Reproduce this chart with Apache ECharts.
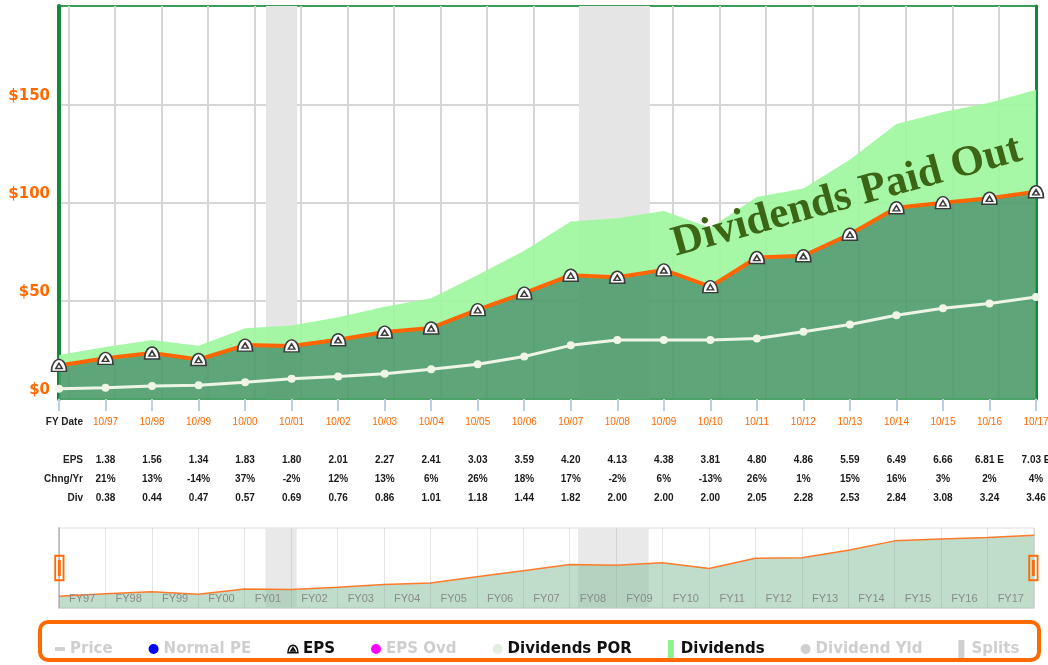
<!DOCTYPE html>
<html>
  <head>
    <meta charset="utf-8" />
    <title>EPS and Dividends</title>
    <script src="https://cdn.jsdelivr.net/npm/echarts@6/dist/echarts.min.js"></script>
  </head>
  <body style="margin:0;background:#fff">
    <style>
      #main { width: 1048px; height: 665px; }
    </style>
    <div id="main"></div>
    <script type="text/javascript">
      // fiscal years end in October (10/yy); FY96 is only drawn, not tabled
      var fiscalYears = [1996, 1997, 1998, 1999, 2000, 2001, 2002, 2003, 2004, 2005, 2006,
                         2007, 2008, 2009, 2010, 2011, 2012, 2013, 2014, 2015, 2016, 2017];
      var dateLabels = ['FY Date', '10/97', '10/98', '10/99', '10/00', '10/01', '10/02', '10/03',
                        '10/04', '10/05', '10/06', '10/07', '10/08', '10/09', '10/10', '10/11',
                        '10/12', '10/13', '10/14', '10/15', '10/16', '10/17'];
      var eps = [1.14, 1.38, 1.56, 1.34, 1.83, 1.80, 2.01, 2.27, 2.41, 3.03, 3.59,
                 4.20, 4.13, 4.38, 3.81, 4.80, 4.86, 5.59, 6.49, 6.66, 6.81, 7.03];
      var chng = ['', '21%', '13%', '-14%', '37%', '-2%', '12%', '13%', '6%', '26%', '18%',
                  '17%', '-2%', '6%', '-13%', '26%', '1%', '15%', '16%', '3%', '2%', '4%'];
      var div = [0.35, 0.38, 0.44, 0.47, 0.57, 0.69, 0.76, 0.86, 1.01, 1.18, 1.44,
                 1.82, 2.00, 2.00, 2.00, 2.05, 2.28, 2.53, 2.84, 3.08, 3.24, 3.46];
      var estimated = [2016, 2017];
      var peMultiple = 15;
      var recessions = [[2001.25, 2001.92], [2007.98, 2009.5]];
      var yearLines = [1997, 1998, 1999, 2000, 2001, 2002, 2003, 2004, 2005, 2006, 2007,
                       2008, 2009, 2010, 2011, 2012, 2013, 2014, 2015, 2016, 2017];
      var sliderLabels = ['FY97', 'FY98', 'FY99', 'FY00', 'FY01', 'FY02', 'FY03', 'FY04',
                          'FY05', 'FY06', 'FY07', 'FY08', 'FY09', 'FY10', 'FY11', 'FY12',
                          'FY13', 'FY14', 'FY15', 'FY16', 'FY17'];
      var yLabelValues = [0, 50, 100, 150];
      var yGridValues = [50, 100, 150];

      var monthPos = 0.8; // end of October as a fraction of the year
      var xMin = fiscalYears[0] + monthPos;
      var xMax = fiscalYears[fiscalYears.length - 1] + monthPos;

      // values plotted on the price scale (earnings and dividends times the PE multiple)
      var epsValue = eps.map(v => +(v * peMultiple).toFixed(2));
      var divValue = div.map(v => +(v * peMultiple).toFixed(2));
      var divPoints = fiscalYears.map((y, i) => [y + monthPos, divValue[i]]);
      var epsPoints = fiscalYears.map((y, i) => [y + monthPos, epsValue[i]]);

      var epsIcon = 'path://M1,11 C1,5 4,1 7.5,1 C11,1 14,5 14,11 Z M7.5,4.2 L10.3,8.6 L4.7,8.6 Z';
      var recessAreas = recessions.map(r => [{ xAxis: r[0] }, { xAxis: r[1] }]);

      var orange = '#ff6a00';
      var font = 'Liberation Sans';

      var myChart = echarts.init(document.getElementById('main'));
      var option = {
        animation: false,
        backgroundColor: '#fff',
        grid: [
          { left: 59, right: 12, top: 6, bottom: 266, show: true, outerBoundsMode: 'none',
            borderColor: '#3b9d55', borderWidth: 2 },
          { left: 59, right: 14, top: 528, height: 80, show: true, outerBoundsMode: 'none',
            borderColor: '#dedede', borderWidth: 1 }
        ],
        xAxis: [
          { gridIndex: 0, type: 'value', position: 'bottom', min: xMin, max: xMax,
            axisLine: { show: false }, axisLabel: { show: false },
            axisTick: { show: false, customValues: yearLines },
            splitLine: { show: true, lineStyle: { color: '#d6d6d6', width: 2 } } },
          { gridIndex: 0, type: 'category', position: 'bottom', boundaryGap: false,
            data: dateLabels,
            axisLine: { lineStyle: { color: '#4aa866', width: 2 } },
            axisTick: { show: true, interval: 0, length: 12, lineStyle: { color: '#bccfe2', width: 2 } },
            splitLine: { show: false },
            axisLabel: {
              interval: 0, margin: 14, lineHeight: 19, fontFamily: font,
              formatter: function (value, index) {
                if (index === 0) {
                  return '{hd|' + value + '}\n{sp| }\n{hd|EPS}\n{hd|Chng/Yr}\n{hd|Div}';
                }
                var e = eps[index].toFixed(2) + (estimated.indexOf(fiscalYears[index]) >= 0 ? ' E' : '');
                return '{dt|' + value + '}\n{sp| }\n{v|' + e + '}\n{v|' + chng[index] + '}\n{v|' + div[index].toFixed(2) + '}';
              },
              rich: {
                hd: { width: 48, align: 'right', fontSize: 10, fontFamily: font, fontWeight: 'bold', color: '#222', lineHeight: 19 },
                dt: { fontSize: 10, fontFamily: font, color: orange, lineHeight: 19 },
                v: { fontSize: 10, fontFamily: font, fontWeight: 'bold', color: '#1a1a1a', lineHeight: 19 },
                sp: { fontSize: 10, lineHeight: 19 }
              }
            } },
          { gridIndex: 1, type: 'value', position: 'bottom', min: xMin, max: xMax,
            axisLine: { show: false }, axisLabel: { show: false },
            axisTick: { show: false }, splitLine: { show: false } },
          { gridIndex: 1, type: 'category', position: 'bottom', boundaryGap: true, z: 10,
            data: sliderLabels,
            axisLine: { show: true, lineStyle: { color: '#dcdcdc', width: 1 } },
            axisTick: { show: false },
            axisLabel: { inside: true, margin: 4, interval: 0, color: '#8a8a8a', fontSize: 11, fontFamily: font },
            splitLine: { show: true, interval: 0, lineStyle: { color: 'rgba(150,150,150,0.25)', width: 1 } } }
        ],
        yAxis: [
          { gridIndex: 0, type: 'value', position: 'left', min: 0, max: 200,
            axisLine: { show: true, lineStyle: { color: '#14883a', width: 4 } },
            axisTick: { show: false, customValues: yGridValues },
            axisLabel: { customValues: yLabelValues, formatter: '${value}', margin: 9,
                         verticalAlign: 'bottom', padding: [0, 0, 1, 0],
                         color: orange, fontFamily: 'DejaVu Sans', fontWeight: 'bold', fontSize: 15 },
            splitLine: { show: true, lineStyle: { color: '#d6d6d6', width: 2 } } },
          { gridIndex: 0, type: 'value', position: 'right', min: 0, max: 200,
            axisLine: { show: true, lineStyle: { color: '#14883a', width: 3 } },
            axisTick: { show: false }, axisLabel: { show: false }, splitLine: { show: false } },
          { gridIndex: 1, type: 'value', min: 0, max: 116,
            axisLine: { show: true, lineStyle: { color: '#c8c8c8', width: 2 } },
            axisTick: { show: false }, axisLabel: { show: false }, splitLine: { show: false } }
        ],
        dataZoom: [{
          type: 'slider', xAxisIndex: 2, filterMode: 'none', start: 0, end: 100,
          left: 58, right: 14, top: 528, height: 80,
          showDetail: false, showDataShadow: false, brushSelect: false,
          backgroundColor: 'rgba(0,0,0,0)', borderColor: 'rgba(0,0,0,0)',
          fillerColor: 'rgba(0,0,0,0)',
          dataBackground: { lineStyle: { opacity: 0 }, areaStyle: { opacity: 0 } },
          selectedDataBackground: { lineStyle: { opacity: 0 }, areaStyle: { opacity: 0 } },
          moveHandleSize: 0, moveHandleStyle: { opacity: 0 },
          handleIcon: 'path://M0,0H10V26H0Z M1.8,1.8V24.2H8.2V1.8Z M3.6,5H6.4V21H3.6Z',
          handleSize: '33%',
          handleStyle: { color: orange, borderColor: orange, borderWidth: 0 },
          emphasis: { handleStyle: { color: orange, borderColor: orange, borderWidth: 0 },
                      moveHandleStyle: { opacity: 0 } }
        }],
        legend: {
          left: 50, top: 635, itemGap: 36, itemWidth: 10, itemHeight: 18,
          selectedMode: false,
          textStyle: { fontFamily: 'DejaVu Sans', fontWeight: 'bold', fontSize: 15, color: '#111' },
          data: [
            { name: 'Price', icon: 'path://M0,0h8v3h-8Z', itemStyle: { color: '#cfcfcf' }, textStyle: { color: '#cfcfcf' } },
            { name: 'Normal PE', icon: 'circle', itemStyle: { color: '#0000ff' }, textStyle: { color: '#cfcfcf' } },
            { name: 'EPS', icon: epsIcon, itemStyle: { color: '#fff', borderColor: '#111', borderWidth: 1.5 } },
            { name: 'EPS Ovd', icon: 'circle', itemStyle: { color: '#ff00ff' }, textStyle: { color: '#cfcfcf' } },
            { name: 'Dividends POR', icon: 'circle', itemStyle: { color: '#e3efe0' } },
            { name: 'Dividends', icon: 'path://M0,0h6v18h-6Z', itemStyle: { color: '#8ff08f' } },
            { name: 'Dividend Yld', icon: 'circle', itemStyle: { color: '#cfcfcf' }, textStyle: { color: '#cfcfcf' } },
            { name: 'Splits', icon: 'path://M0,0h6v18h-6Z', itemStyle: { color: '#cfcfcf' }, textStyle: { color: '#cfcfcf' } }
          ]
        },
        graphic: [
          { type: 'rect', x: 40, y: 622, shape: { width: 999, height: 38, r: 8 },
            style: { fill: '#fff', stroke: orange, lineWidth: 4 }, z: 0 },
          { type: 'text', x: 847, y: 197, rotation: 0.27, z: 100,
            style: { text: 'Dividends Paid Out', font: 'bold 43px "Liberation Serif"',
                     fill: '#3c6516', align: 'center', verticalAlign: 'middle' } }
        ],
        series: [
          { name: 'EPS', type: 'line', xAxisIndex: 1, yAxisIndex: 0, stack: 'val',
            data: epsValue, z: 3,
            lineStyle: { color: '#ff6600', width: 4 },
            areaStyle: { color: 'rgba(76,156,107,0.9)', opacity: 1 },
            symbol: epsIcon, symbolSize: [15, 12],
            itemStyle: { color: '#fff', borderColor: '#3a3a3a', borderWidth: 1.5 } },
          { name: 'Dividends', type: 'line', xAxisIndex: 1, yAxisIndex: 0, stack: 'val',
            data: divValue, z: 2, symbol: 'none',
            lineStyle: { width: 0, opacity: 0 },
            areaStyle: { color: 'rgba(158,247,158,0.92)', opacity: 1 } },
          { name: 'Dividends POR', type: 'line', xAxisIndex: 0, yAxisIndex: 0,
            data: divPoints, z: 4,
            lineStyle: { color: '#eef5e6', width: 3 },
            symbol: 'circle', symbolSize: 8,
            itemStyle: { color: '#eef5e6' },
            markArea: { silent: true, z: 1, itemStyle: { color: '#e5e5e5' }, data: recessAreas } },
          { name: 'Price', type: 'line', data: [] },
          { name: 'Normal PE', type: 'line', data: [] },
          { name: 'EPS Ovd', type: 'line', data: [] },
          { name: 'Dividend Yld', type: 'line', data: [] },
          { name: 'Splits', type: 'line', data: [] },
          { name: 'overview', type: 'line', xAxisIndex: 2, yAxisIndex: 2,
            data: epsPoints, symbol: 'none', z: 3,
            lineStyle: { color: '#ff7a2a', width: 1.5 },
            areaStyle: { color: 'rgba(129,187,153,0.5)', opacity: 1 },
            markArea: { silent: true, z: 1, itemStyle: { color: '#e9e9e9' }, data: recessAreas } }
        ]
      };
      myChart.setOption(option);
    </script>
  </body>
</html>
